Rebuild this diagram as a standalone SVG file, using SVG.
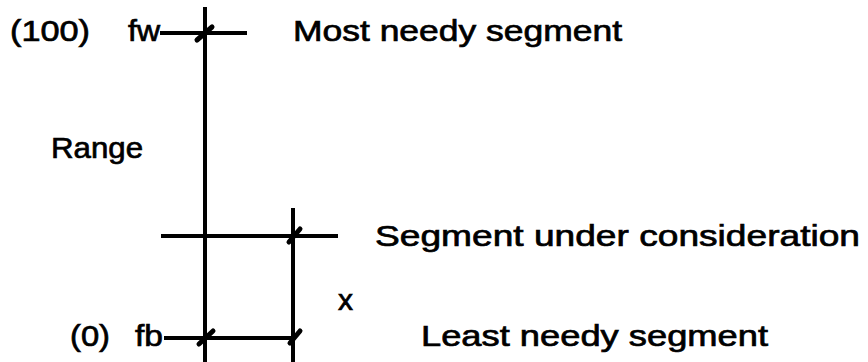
<svg xmlns="http://www.w3.org/2000/svg" width="868" height="362" viewBox="0 0 868 362">
<style>
text{font-family:"Liberation Sans",Arial,sans-serif;font-size:30px;fill:#000;stroke:#000;stroke-width:0.7}
.ln{stroke:#000;stroke-width:4;fill:none}
.tk{stroke:#000;stroke-width:5;stroke-linecap:round;fill:none}
</style>
<rect width="868" height="362" fill="#fff"/>
<g id="connectors">
<line class="ln" x1="205" y1="7" x2="205" y2="362"/>
<line class="ln" x1="293" y1="208" x2="293" y2="362"/>
<line class="ln" x1="160" y1="33" x2="247" y2="33"/>
<line class="ln" x1="161" y1="236" x2="338" y2="236"/>
<line class="ln" x1="164" y1="338" x2="293" y2="338"/>
<path class="tk" d="M197 40 L212 27"/>
<path class="tk" d="M289 242 L300 229"/>
<path class="tk" d="M199 344 L213 331"/>
<path class="tk" d="M290 343 L300 331"/>
</g>
<g id="top">
<text y="41"><tspan x="10" textLength="80" lengthAdjust="spacingAndGlyphs">(100)</tspan><tspan x="128" textLength="32" lengthAdjust="spacingAndGlyphs">fw</tspan></text>
<text x="293" y="41" textLength="329" lengthAdjust="spacingAndGlyphs">Most needy segment</text>
</g>
<g id="range">
<text x="51" y="158" textLength="92" lengthAdjust="spacingAndGlyphs">Range</text>
</g>
<g id="consider">
<text x="375" y="246" textLength="485" lengthAdjust="spacingAndGlyphs">Segment under consideration</text>
</g>
<g id="xlabel">
<text x="338" y="310" textLength="15" lengthAdjust="spacingAndGlyphs">x</text>
</g>
<g id="bottom">
<text y="346"><tspan x="70" textLength="40" lengthAdjust="spacingAndGlyphs">(0)</tspan><tspan x="135" textLength="28" lengthAdjust="spacingAndGlyphs">fb</tspan></text>
<text x="421" y="346" textLength="347" lengthAdjust="spacingAndGlyphs">Least needy segment</text>
</g>
</svg>
